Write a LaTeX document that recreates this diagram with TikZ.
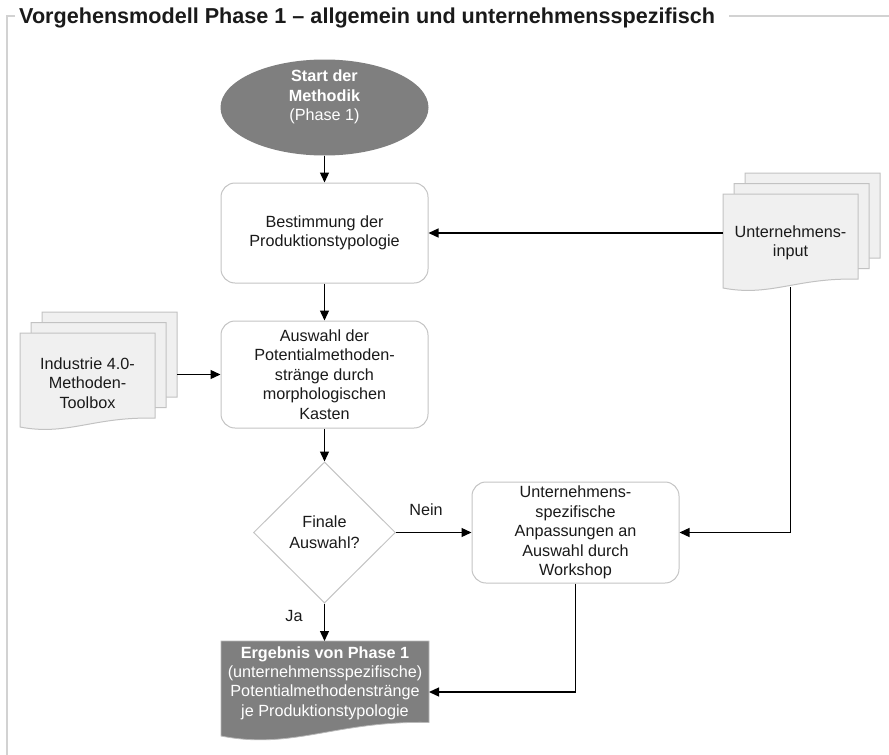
\documentclass[tikz,border=0pt]{standalone}
\usepackage{fontspec}
\setmainfont{Liberation Sans}
\usetikzlibrary{shapes.geometric, arrows.meta}

\definecolor{framegray}{HTML}{D2D2D2}
\definecolor{boxline}{HTML}{C4C4C4}
\definecolor{docfill}{HTML}{F0F0F0}
\definecolor{docline}{HTML}{C2C2C2}
\definecolor{darkfill}{HTML}{7F7F7F}
\definecolor{inktext}{HTML}{1A1A1A}

\newcommand\bodyfont{\fontsize{16.2}{19.4}\selectfont}

% document symbol with a wavy lower edge: x0, top, x1, lower-left y
\newcommand\docshape[5]{%
  \path[#1] (#2,#3) -- (#4,#3) -- (#4,{#5-0.065*(#4-#2)})
    .. controls ({#2+0.55*(#4-#2)},{#5-0.065*(#4-#2)-2}) and ({#2+0.35*(#4-#2)},{#5+0.068*(#4-#2)})
    .. (#2,#5) -- cycle;}

\tikzset{
  procbox/.style={draw=boxline, line width=1pt, rounded corners=14pt, fill=white,
    minimum width=207pt, align=center, font=\bodyfont, text=inktext},
  decision/.style={diamond, draw=boxline, line width=1pt, fill=white, aspect=1,
    minimum width=142pt, minimum height=141pt, inner sep=0pt, align=center,
    font=\fontsize{16.2}{21}\selectfont, text=inktext},
  startshape/.style={ellipse, fill=darkfill, draw=none, minimum width=208pt, minimum height=96pt},
  whitetext/.style={align=center, font=\bodyfont, text=white, inner sep=0pt},
  doctext/.style={align=center, font=\bodyfont, text=inktext, inner sep=0pt},
  lighttext/.style={font=\bodyfont, text=inktext, inner sep=0pt},
  docstyle/.style={fill=docfill, draw=docline, line width=1pt},
  darkdoc/.style={fill=darkfill, draw=gray!55, line width=0.8pt},
  flow/.style={-{Triangle[length=10pt,width=9pt]}, line width=1.3pt, draw=black},
  frameline/.style={draw=framegray, line width=1.6pt}
}

\begin{document}
\begin{tikzpicture}[x=1pt, y=-1pt]
  \useasboundingbox (0,0) rectangle (889,755);

  % outer frame with heading
  \node[anchor=base west, inner sep=0pt, font=\fontsize{21.6}{26}\selectfont\bfseries, text=inktext]
    (title) at (19,23.5) {Vorgehensmodell Phase 1 – allgemein und unternehmensspezifisch};
  \draw[frameline] (15,16) -- (7,16) -- (7,755);
  \draw[frameline] (729,16) -- (889,16);

  % start
  \node[startshape] (start) at (324.5,107.5) {};
  \node[whitetext] (starttxt) at (324.5,97)
    {\textbf{Start der}\\\textbf{Methodik}\\(Phase 1)};

  % process steps
  \node[procbox, minimum height=100pt] (box1) at (324.5,233) {Bestimmung der\\Produktionstypologie};
  \node[procbox, minimum height=107pt] (box2) at (324.5,374.5)
    {Auswahl der\\Potentialmethoden-\\stränge durch\\morphologischen\\Kasten};
  \node[decision] (dec) at (324.5,532.5) {Finale\\Auswahl?};
  \node[procbox, minimum height=101pt] (box3) at (575.5,532.5)
    {Unternehmens-\\spezifische\\Anpassungen an\\Auswahl durch\\Workshop};

  % result document
  \docshape{darkdoc}{221}{641}{429}{736}
  \node[whitetext] (result) at (325,683)
    {\textbf{Ergebnis von Phase 1}\\(unternehmensspezifische)\\Potentialmethodenstränge\\je Produktionstypologie};
  \coordinate (resultin) at (429,692);
  \coordinate (resulttop) at (324.5,641);

  % company input stack
  \docshape{docstyle}{745}{173}{880}{267}
  \docshape{docstyle}{734}{183.5}{869}{277.5}
  \docshape{docstyle}{723}{194}{858}{288}
  \node[doctext, minimum width=135pt, minimum height=88pt] (uinput) at (790.5,243)
    {Unternehmens-\\input};

  % toolbox stack
  \docshape{docstyle}{42}{312}{177}{406}
  \docshape{docstyle}{31}{322.5}{166}{416.5}
  \docshape{docstyle}{20}{333}{155}{427}
  \node[doctext] (toolbox) at (87.5,383) {Industrie 4.0-\\Methoden-\\Toolbox};
  \coordinate (toolout) at (177,374.5);

  % connectors
  \draw[flow] (start.south) -- (box1.north);
  \draw[flow] (box1.south) -- (box2.north);
  \draw[flow] (box2.south) -- (dec.north);
  \draw[flow] (dec.east) -- (box3.west);
  \draw[flow] (dec.south) -- (resulttop);
  \draw[flow] (box3.south) |- (resultin);
  \draw[flow] (uinput.west |- box1.east) -- (box1.east);
  \draw[flow] (uinput.south) |- (box3.east);
  \draw[flow] (toolout) -- (box2.west);

  % branch labels
  \node[lighttext] (nein) at (426,510) {Nein};
  \node[lighttext] (ja) at (294,616) {Ja};
\end{tikzpicture}
\end{document}
